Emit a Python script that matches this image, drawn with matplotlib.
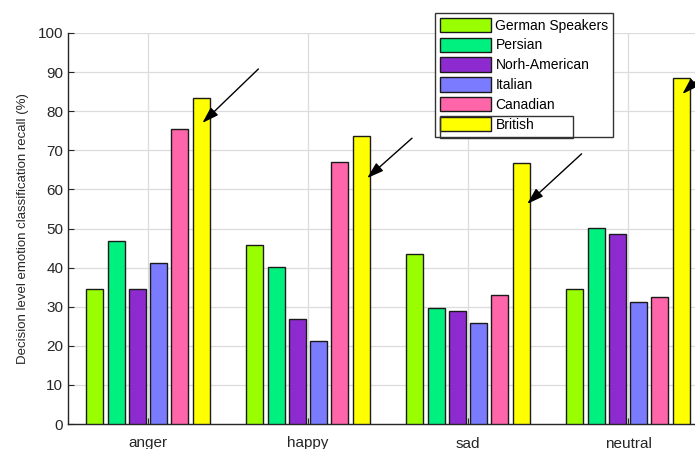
import matplotlib
matplotlib.use("Agg")
import matplotlib.pyplot as plt
import numpy as np
from matplotlib.patches import Rectangle

plt.rcParams['font.family'] = ['Liberation Sans', 'DejaVu Sans']

# recall per emotion, one list per speaker group
emotions = ['anger', 'happy', 'sad', 'neutral']
groups = ['German Speakers', 'Persian', 'Norh-American', 'Italian', 'Canadian', 'British']
german = [34.5, 45.7, 43.6, 34.6]
persian = [46.8, 40.2, 29.7, 50.1]
north_american = [34.5, 26.8, 28.9, 48.5]
italian = [41.3, 21.1, 25.8, 31.1]
canadian = [75.4, 67.0, 33.0, 32.5]
british = [83.5, 73.6, 66.7, 88.4]
series = [german, persian, north_american, italian, canadian, british]
colors = ['#99FF00', '#00F080', '#8E2BD0', '#7B7BFF', '#FF66AA', '#FFFF00']

# arrows pointing at the British bars (tail, head) in data units
arrows = [((1.69, 90.8), (1.34, 77.0)),
          ((2.65, 73.1), (2.37, 62.9)),
          ((3.71, 69.1), (3.37, 56.3)),
          ((4.63, 95.9), (4.34, 84.4))]

W, H = 695, 449
fig = plt.figure(figsize=(W / 100, H / 100), dpi=100)
# axes run past the right edge of the figure
ax = fig.add_axes([68 / W, 25 / H, 640 / W, 391 / H])

x = np.arange(1, len(emotions) + 1)
step = 0.133
width = 0.106
for i, (vals, name, c) in enumerate(zip(series, groups, colors)):
    ax.bar(x + (i - 2.5) * step, vals, width, color=c, edgecolor='#1a1a1a',
           linewidth=1.0, label=name, zorder=3)

for tail, head in arrows:
    ax.annotate('', xy=head, xytext=tail, annotation_clip=False,
                arrowprops=dict(arrowstyle='-|>,head_length=1.0,head_width=0.32',
                                color='black', lw=1.0, shrinkA=0, shrinkB=0),
                zorder=5)

ax.set_xlim(0.5, 4.5)
ax.set_ylim(0, 100)
ax.set_yticks(np.arange(0, 101, 10))
ax.set_xticks(x)
ax.set_xticklabels(emotions)
ax.tick_params(direction='in', length=4, width=0.8, colors='#262626',
               labelsize=11, labelcolor='#262626')
ax.tick_params(axis='x', pad=9)
ax.grid(True, color='#dcdcdc', linewidth=0.9, zorder=0)
ax.set_axisbelow(True)
for side in ['top', 'right']:
    ax.spines[side].set_visible(False)
for side in ['left', 'bottom']:
    ax.spines[side].set_color('#262626')
    ax.spines[side].set_linewidth(1.0)

ax.set_ylabel('Decision level emotion classification recall (%)', fontsize=9.5,
              color='#262626', labelpad=6)

leg = ax.legend(loc='upper left', bbox_to_anchor=(435 / W, 1 - 13 / H),
                bbox_transform=fig.transFigure, fontsize=10, frameon=True,
                fancybox=False, framealpha=1, edgecolor='#333333',
                borderaxespad=0, borderpad=0.35, handlelength=3.7,
                handleheight=1.2, labelspacing=0.36, handletextpad=0.3)
leg.get_frame().set_linewidth(1.0)
leg.set_zorder(10)

# stray box around the last legend entry
fig.patches.append(Rectangle((440 / W, 1 - 138 / H), 133 / W, 22 / H,
                             transform=fig.transFigure, fill=False,
                             edgecolor='#333333', linewidth=1.0, zorder=11))

fig.savefig('out.png', dpi=100)
